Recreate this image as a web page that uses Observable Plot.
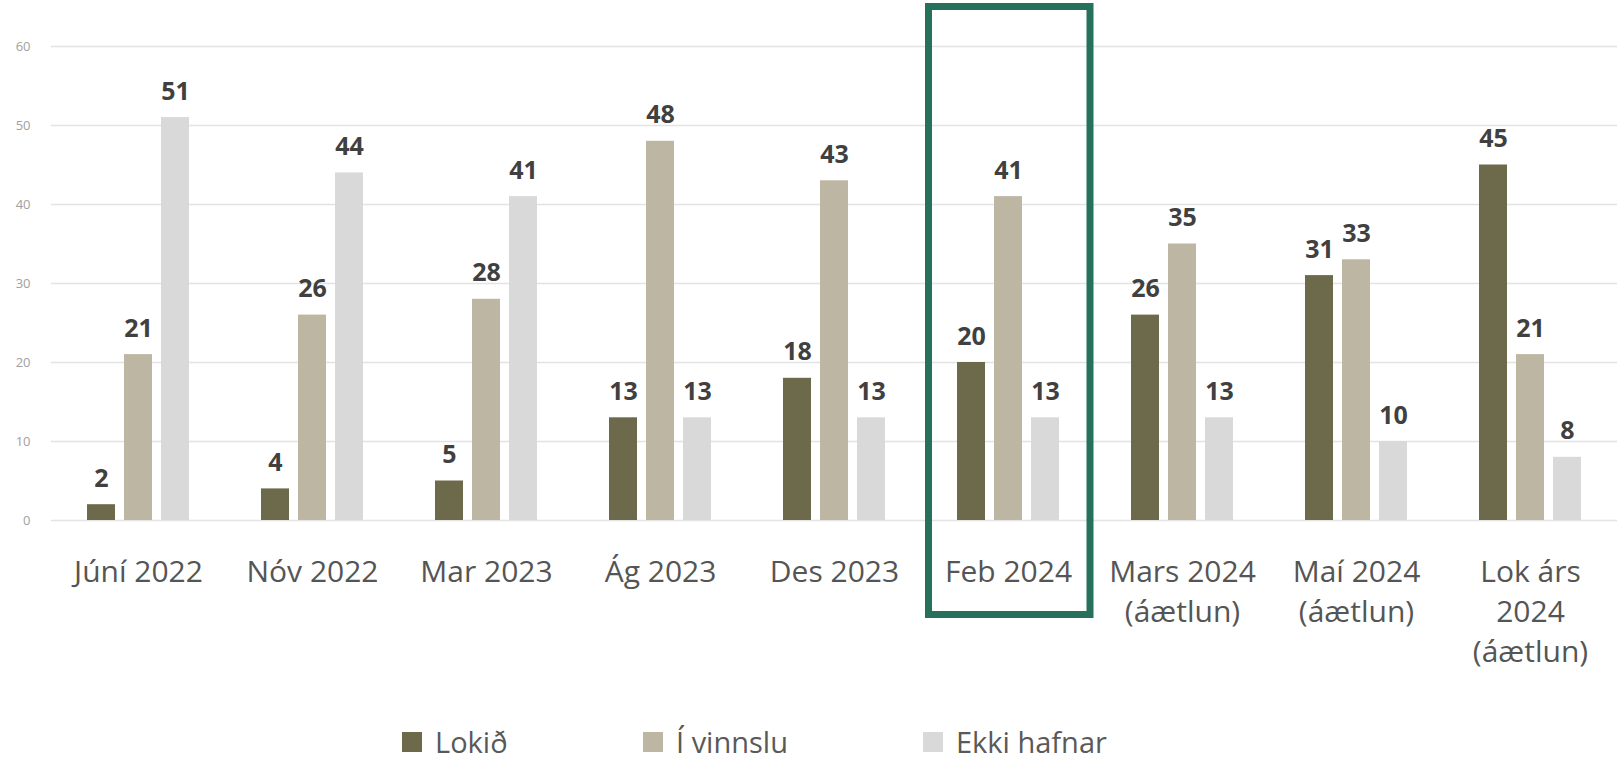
<!DOCTYPE html>
<html>
<head>
<meta charset="utf-8">
<script src="https://cdn.jsdelivr.net/npm/d3@7"></script>
<script src="https://cdn.jsdelivr.net/npm/@observablehq/plot@0.6"></script>
<style>
  html, body { margin: 0; padding: 0; background: #fff; }
  body { width: 1621px; height: 760px; overflow: hidden; font-family: "Open Sans", sans-serif; }
  #legend { position: relative; height: 70px; width: 1621px; }
  .item { position: absolute; top: 35px; height: 34px; line-height: 34px; display: flex; align-items: center; font-size: 29px; color: #595959; }
  .sw { width: 20px; height: 20px; margin-right: 13px; }
</style>
</head>
<body>
<div id="chart"></div>
<div id="legend"></div>
<script>
const categories = ["Júní 2022", "Nóv 2022", "Mar 2023", "Ág 2023", "Des 2023", "Feb 2024",
  "Mars 2024\n(áætlun)", "Maí 2024\n(áætlun)", "Lok árs\n2024\n(áætlun)"];
const series = ["Lokið", "Í vinnslu", "Ekki hafnar"];
const lokid = [2, 4, 5, 13, 18, 20, 26, 31, 45];
const iVinnslu = [21, 26, 28, 48, 43, 41, 35, 33, 21];
const ekkiHafnar = [51, 44, 41, 13, 13, 13, 13, 10, 8];
const colors = ["#6c6a4b", "#bdb6a3", "#d9d9d9"];
const highlighted = ["Feb 2024"];
const yTicks = [0, 10, 20, 30, 40, 50, 60];

const values = [lokid, iVinnslu, ekkiHafnar];
const data = [];
categories.forEach((c, i) => series.forEach((s, j) => data.push({cat: c, series: s, value: values[j][i]})));

const chart = Plot.plot({
  width: 1621,
  height: 690,
  marginLeft: 50,
  marginRight: 3,
  marginTop: 46,
  marginBottom: 170,
  style: {fontFamily: "'Open Sans', sans-serif", background: "#fff"},
  fx: {domain: categories, padding: 0, axis: null},
  x: {domain: series, paddingInner: 0.237, paddingOuter: 0.908, axis: null},
  y: {domain: [0, 60], axis: null},
  color: {domain: series, range: colors},
  marks: [
    Plot.gridY(yTicks, {stroke: "#e3e3e3", strokeOpacity: 1, strokeWidth: 1.5}),
    Plot.axisY(yTicks, {tickSize: 0, tickPadding: 21, fontSize: 13, fill: "#a0a0a0", facetAnchor: "left", anchor: "left", label: null}),
    Plot.barY(data, {fx: "cat", x: "series", y: "value", fill: "series"}),
    Plot.text(data, {fx: "cat", x: "series", y: "value", text: d => String(d.value),
      lineAnchor: "bottom", dy: -18, fontSize: 25, fontWeight: "bold", fill: "#404040"}),
    Plot.text(categories, {fx: d => d, text: d => d, frameAnchor: "bottom", lineAnchor: "top",
      dy: 33, fontSize: 30, lineHeight: 1.34, fill: "#555555"}),
    Plot.rect(highlighted, {fx: d => d, insetLeft: 7.5, insetRight: 5, insetTop: -39.5, insetBottom: -94.5,
      fill: "none", stroke: "#27715c", strokeWidth: 7})
  ]
});
document.getElementById("chart").appendChild(chart);

const legendLefts = [402, 643, 923];
const legend = document.getElementById("legend");
series.forEach((s, i) => {
  const item = document.createElement("div");
  item.className = "item";
  item.style.left = legendLefts[i] + "px";
  const sw = document.createElement("div");
  sw.className = "sw";
  sw.style.background = colors[i];
  const t = document.createElement("span");
  t.textContent = s;
  item.appendChild(sw);
  item.appendChild(t);
  legend.appendChild(item);
});
</script>
</body>
</html>
